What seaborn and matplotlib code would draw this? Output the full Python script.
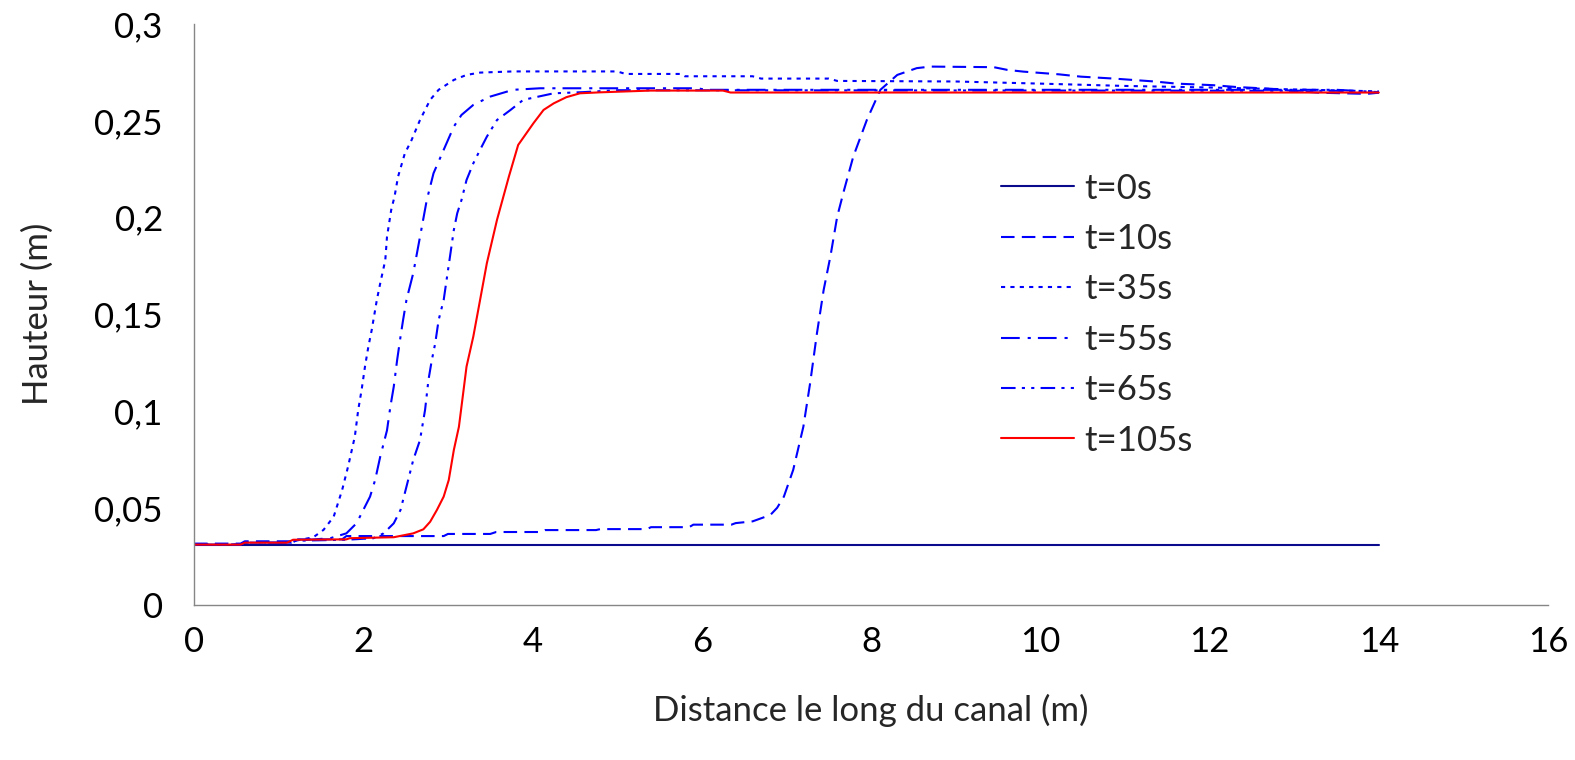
import matplotlib
matplotlib.use("Agg")
import matplotlib.pyplot as plt
import matplotlib.ticker as mticker
import seaborn as sns
import pandas as pd

series_labels = ["t=0s", "t=10s", "t=35s", "t=55s", "t=65s", "t=105s"]

x_t0 = [0, 14]
y_t0 = [0.031, 0.031]

x_t10 = [0, 0.55, 0.6, 1.15, 1.2, 1.75, 1.8, 2.95, 3.0, 3.5, 3.57, 4.1, 4.15, 4.75, 4.8,
         5.35, 5.4, 5.85, 5.9, 6.35, 6.4, 6.6, 6.81, 6.89, 6.97, 7.08, 7.20, 7.28, 7.36,
         7.44, 7.52, 7.60, 7.68, 7.79, 7.95, 8.11, 8.31, 8.54, 8.70, 9.45, 9.61, 9.80,
         10.22, 10.48, 10.87, 11.35, 11.61, 12.04, 12.30, 12.74, 13.0, 13.30, 13.86, 14.0]
y_t10 = [0.0315, 0.0315, 0.0327, 0.0327, 0.0337, 0.0337, 0.0354, 0.0354, 0.0365, 0.0365,
         0.0375, 0.0375, 0.0385, 0.0385, 0.039, 0.039, 0.040, 0.040, 0.0413, 0.0413, 0.0421,
         0.043, 0.0463, 0.050, 0.0558, 0.0696, 0.0919, 0.1144, 0.140, 0.1626, 0.180, 0.2005,
         0.214, 0.2315, 0.2504, 0.266, 0.2737, 0.2772, 0.278, 0.2777, 0.2763, 0.2754, 0.274,
         0.2728, 0.2718, 0.2703, 0.2692, 0.2684, 0.2675, 0.2665, 0.2654, 0.2645, 0.2639, 0.2645]

x_t35 = [0, 0.55, 0.6, 1.15, 1.2, 1.41, 1.53, 1.65, 1.75, 1.82, 1.90, 1.94, 1.98, 2.02, 2.06,
         2.10, 2.16, 2.20, 2.26, 2.28, 2.33, 2.37, 2.41, 2.49, 2.57, 2.67, 2.79, 2.89, 3.07,
         3.22, 3.38, 3.77, 5.0, 5.1, 5.75, 5.8, 6.6, 6.7, 7.5, 7.6, 9.0, 10.0, 11.0, 12.0,
         13.0, 14.0]
y_t35 = [0.031, 0.031, 0.032, 0.032, 0.033, 0.0348, 0.0386, 0.0454, 0.0592, 0.0713, 0.0868,
         0.1006, 0.1109, 0.123, 0.1333, 0.142, 0.1574, 0.166, 0.178, 0.190, 0.204, 0.211,
         0.221, 0.233, 0.240, 0.2504, 0.2608, 0.266, 0.2711, 0.2737, 0.2749, 0.2755, 0.2755,
         0.2742, 0.2742, 0.273, 0.273, 0.2718, 0.2718, 0.2706, 0.2703, 0.2692, 0.268, 0.2672,
         0.2662, 0.2652]

x_t55 = [0, 0.55, 0.6, 1.15, 1.2, 1.61, 1.80, 1.92, 2.0, 2.08, 2.14, 2.20, 2.28, 2.32, 2.36,
         2.40, 2.44, 2.47, 2.51, 2.59, 2.67, 2.75, 2.83, 2.95, 3.07, 3.16, 3.30, 3.50, 3.77,
         4.09, 5.95, 6.05, 13.5, 14.0]
y_t55 = [0.031, 0.031, 0.032, 0.032, 0.033, 0.0343, 0.0368, 0.042, 0.0489, 0.0558, 0.0644,
         0.0764, 0.090, 0.1023, 0.1126, 0.1264, 0.1385, 0.147, 0.1574, 0.1712, 0.190, 0.209,
         0.2229, 0.235, 0.247, 0.253, 0.2582, 0.2625, 0.266, 0.2668, 0.2668, 0.266, 0.266,
         0.2648]

x_t65 = [0, 0.55, 0.6, 1.15, 1.2, 1.8, 2.12, 2.24, 2.36, 2.44, 2.51, 2.59, 2.67, 2.73, 2.77,
         2.81, 2.85, 2.89, 2.95, 2.99, 3.03, 3.07, 3.11, 3.16, 3.22, 3.30, 3.38, 3.46, 3.58,
         3.74, 3.89, 4.25, 4.6, 5.0, 13.5, 14.0]
y_t65 = [0.031, 0.031, 0.032, 0.032, 0.033, 0.0335, 0.0343, 0.0368, 0.042, 0.0489, 0.0609,
         0.0747, 0.085, 0.1006, 0.1161, 0.1264, 0.135, 0.147, 0.1574, 0.1695, 0.1815, 0.1936,
         0.2022, 0.209, 0.2194, 0.228, 0.235, 0.2418, 0.2504, 0.2556, 0.2608, 0.2642, 0.2648,
         0.2658, 0.2655, 0.2645]

x_t105 = [0, 0.55, 0.6, 1.1, 1.17, 1.80, 1.84, 2.36, 2.59, 2.71, 2.79, 2.87, 2.95, 3.01, 3.07,
          3.13, 3.17, 3.22, 3.30, 3.38, 3.46, 3.58, 3.72, 3.83, 4.01, 4.13, 4.25, 4.40, 4.56,
          4.80, 5.39, 6.25, 6.34, 14.0]
y_t105 = [0.031, 0.031, 0.032, 0.032, 0.0335, 0.0337, 0.0343, 0.0348, 0.0368, 0.0389, 0.0428,
          0.0489, 0.0558, 0.0644, 0.0799, 0.0919, 0.1057, 0.123, 0.1385, 0.1574, 0.1764,
          0.1988, 0.2211, 0.2375, 0.2487, 0.2556, 0.259, 0.2622, 0.2642, 0.2647, 0.2656,
          0.2656, 0.2646, 0.2646]

x_ticks = [0, 2, 4, 6, 8, 10, 12, 14, 16]
y_ticks = [0, 0.05, 0.1, 0.15, 0.2, 0.25, 0.3]

xs = [x_t0, x_t10, x_t35, x_t55, x_t65, x_t105]
ys = [y_t0, y_t10, y_t35, y_t55, y_t65, y_t105]
frames = []
for lab, xx, yy in zip(series_labels, xs, ys):
    frames.append(pd.DataFrame({"x": xx, "y": yy, "serie": lab}))
df = pd.concat(frames, ignore_index=True)

sns.set_theme(style="white")
plt.rcParams["font.family"] = ["Lato", "DejaVu Sans"]

palette = {"t=0s": "#0A0A8C", "t=10s": "#0000FF", "t=35s": "#0000FF",
           "t=55s": "#0000FF", "t=65s": "#0000FF", "t=105s": "#FF0000"}
dashes = {"t=0s": "", "t=10s": (6.5, 3.5), "t=35s": (2, 2.5),
          "t=55s": (9, 3.8, 1.5, 3.4), "t=65s": (7, 3, 1.5, 3, 1.5, 3), "t=105s": ""}

FS = 25

fig = plt.figure(figsize=(15.75, 7.6), dpi=100)
ax = fig.add_axes([0.1232, 0.2045, 0.8597, 0.7639])

sns.lineplot(data=df, x="x", y="y", hue="serie", style="serie",
             hue_order=series_labels, style_order=series_labels,
             palette=palette, dashes=dashes, sort=False, estimator=None,
             linewidth=1.5, legend=False, ax=ax)

ax.set_xlim(0, 16)
ax.set_ylim(0, 0.3)
ax.set_xticks(x_ticks)
ax.set_yticks(y_ticks)
fmt = mticker.FuncFormatter(lambda v, p: f"{v:g}".replace(".", ","))
ax.xaxis.set_major_formatter(fmt)
ax.yaxis.set_major_formatter(fmt)

for s in ["top", "right"]:
    ax.spines[s].set_visible(False)
for s in ["left", "bottom"]:
    ax.spines[s].set_color("#868686")
    ax.spines[s].set_linewidth(1.0)

ax.tick_params(axis="both", which="major", direction="out", length=8.5, width=1.0,
               color="#868686", labelsize=FS, labelcolor="black")
ax.tick_params(axis="x", pad=7)
ax.tick_params(axis="y", pad=14)

ax.set_xlabel("Distance le long du canal (m)", fontsize=FS, labelpad=26)
ax.set_ylabel("Hauteur (m)", fontsize=FS, labelpad=29)

handles = ax.get_lines()[:6]
leg = ax.legend(handles, series_labels, loc="upper left",
                bbox_to_anchor=(0.6356, 0.773), bbox_transform=fig.transFigure,
                frameon=False, fontsize=FS, handlelength=2.1, handletextpad=0.3,
                labelspacing=0.53, borderpad=0, borderaxespad=0)

fig.savefig("out.png", dpi=100)
